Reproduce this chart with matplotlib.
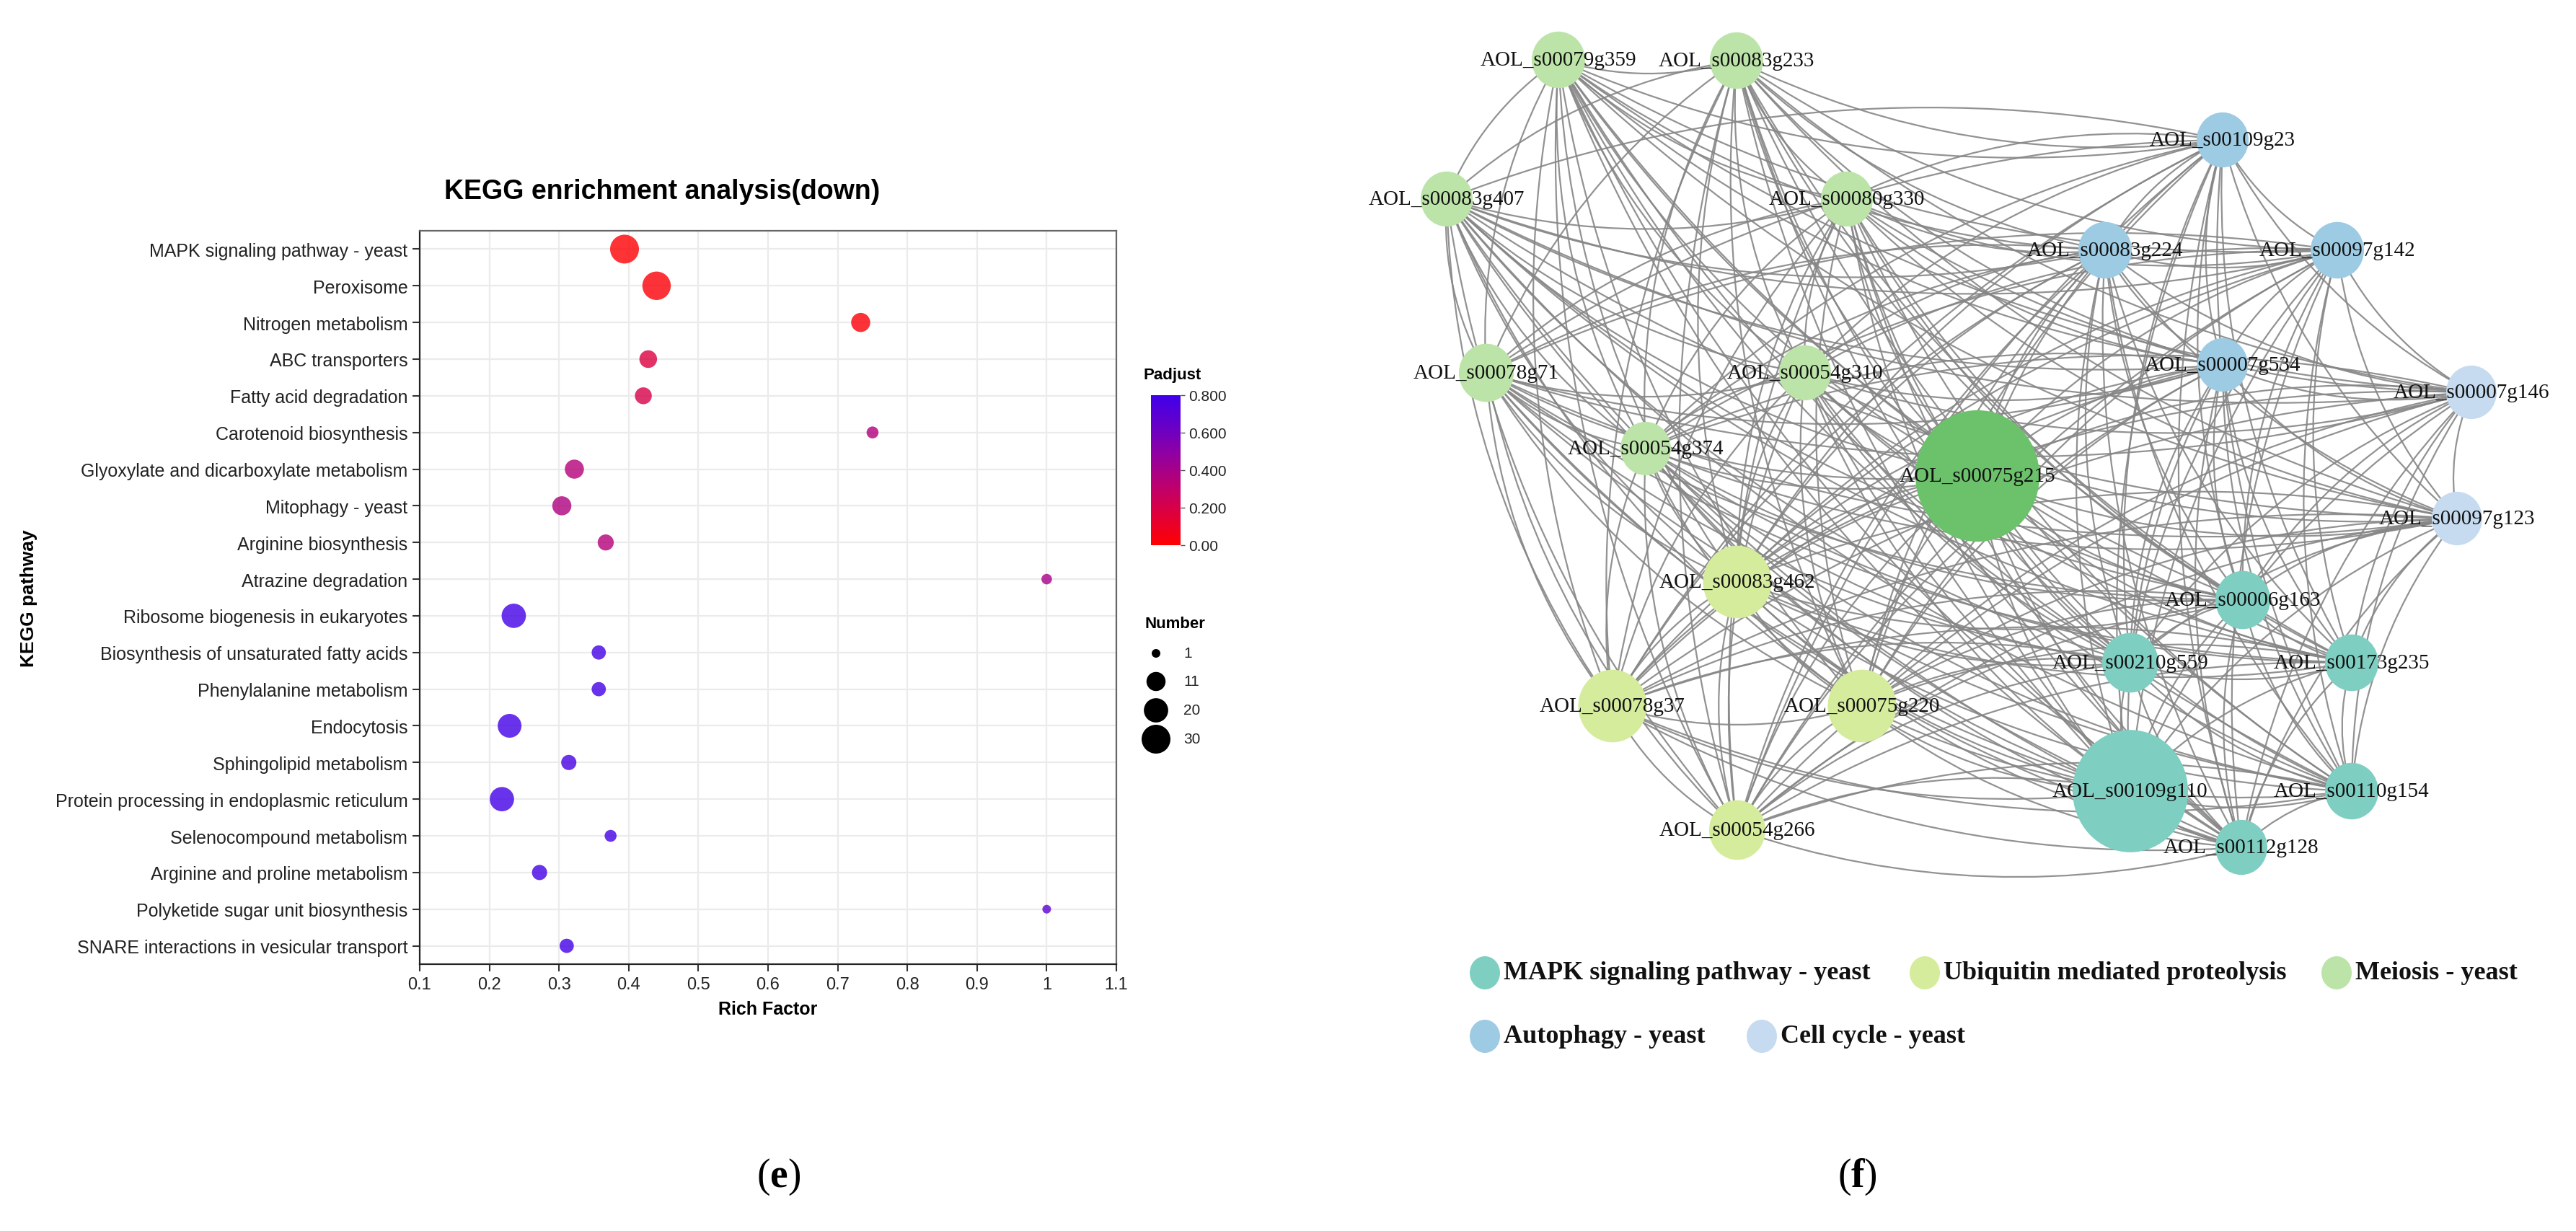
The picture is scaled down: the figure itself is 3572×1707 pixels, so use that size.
import itertools
import numpy as np
import matplotlib
matplotlib.use("Agg")
import matplotlib.pyplot as plt
from matplotlib.colors import LinearSegmentedColormap
from matplotlib.patches import Ellipse, FancyArrowPatch

plt.rcParams['font.family'] = ['Liberation Sans', 'DejaVu Sans']
plt.rcParams['mathtext.fontset'] = 'custom'
plt.rcParams['mathtext.rm'] = 'Liberation Serif'
plt.rcParams['mathtext.bf'] = 'Liberation Serif:bold'

# ---------------- Panel (e) data ----------------
pathways = [
    "MAPK signaling pathway - yeast", "Peroxisome", "Nitrogen metabolism",
    "ABC transporters", "Fatty acid degradation", "Carotenoid biosynthesis",
    "Glyoxylate and dicarboxylate metabolism", "Mitophagy - yeast",
    "Arginine biosynthesis", "Atrazine degradation",
    "Ribosome biogenesis in eukaryotes", "Biosynthesis of unsaturated fatty acids",
    "Phenylalanine metabolism", "Endocytosis", "Sphingolipid metabolism",
    "Protein processing in endoplasmic reticulum", "Selenocompound metabolism",
    "Arginine and proline metabolism", "Polyketide sugar unit biosynthesis",
    "SNARE interactions in vesicular transport",
]
rich_factor = [0.394, 0.440, 0.733, 0.428, 0.421, 0.750, 0.322, 0.304, 0.367, 1.000,
               0.235, 0.357, 0.357, 0.229, 0.314, 0.218, 0.374, 0.272, 1.000, 0.311]
number = [30, 29, 11, 9, 8, 3, 11, 11, 7, 2, 20, 5, 5, 19, 6, 20, 3, 6, 1, 5]
padjust = [0.01, 0.02, 0.02, 0.18, 0.20, 0.36, 0.35, 0.37, 0.35, 0.40,
           0.78, 0.78, 0.78, 0.78, 0.77, 0.78, 0.78, 0.78, 0.68, 0.78]
xticks = [0.1, 0.2, 0.3, 0.4, 0.5, 0.6, 0.7, 0.8, 0.9, 1.0, 1.1]
xtick_labels = ["0.1", "0.2", "0.3", "0.4", "0.5", "0.6", "0.7", "0.8", "0.9", "1", "1.1"]
cbar_ticks = [0.0, 0.2, 0.4, 0.6, 0.8]
cbar_labels = ["0.00", "0.200", "0.400", "0.600", "0.800"]
size_breaks = [1, 11, 20, 30]

# ---------------- Panel (f) data ----------------
node_names = ["AOL_s00079g359", "AOL_s00083g233", "AOL_s00109g23", "AOL_s00083g407",
              "AOL_s00080g330", "AOL_s00083g224", "AOL_s00097g142", "AOL_s00078g71",
              "AOL_s00054g310", "AOL_s00007g534", "AOL_s00007g146", "AOL_s00054g374",
              "AOL_s00075g215", "AOL_s00097g123", "AOL_s00083g462", "AOL_s00006g163",
              "AOL_s00210g559", "AOL_s00173g235", "AOL_s00078g37", "AOL_s00075g220",
              "AOL_s00109g110", "AOL_s00110g154", "AOL_s00054g266", "AOL_s00112g128"]
node_x = [2161, 2408, 3082, 2006, 2561, 2919, 3241, 2061, 2503, 3082, 3427, 2282,
          2742, 3407, 2409, 3110, 2954, 3261, 2236, 2582, 2954, 3261, 2409, 3108]
node_y = [84, 85, 195, 277, 277, 348, 348, 518, 518, 507, 545, 623,
          661, 720, 808, 833, 920, 920, 980, 980, 1098, 1098, 1152, 1176]
node_group = ["Meiosis", "Meiosis", "Autophagy", "Meiosis", "Meiosis", "Autophagy",
              "Autophagy", "Meiosis", "Meiosis", "Autophagy", "Cell", "Meiosis",
              "Hub", "Cell", "Ubiquitin", "MAPK", "MAPK", "MAPK", "Ubiquitin",
              "Ubiquitin", "MAPK", "MAPK", "Ubiquitin", "MAPK"]
node_diam = [74, 74, 72, 72, 72, 74, 74, 76, 72, 70, 70, 70,
             172, 70, 95, 76, 78, 74, 95, 95, 160, 74, 78, 72]
group_colors = {"MAPK": "#7ECFC1", "Ubiquitin": "#D5EC9C", "Meiosis": "#BCE4A8",
                "Autophagy": "#9DCBE3", "Cell": "#C6DBF0", "Hub": "#6CC16B"}
legend_groups = ["MAPK", "Ubiquitin", "Meiosis", "Autophagy", "Cell"]
legend_labels = ["MAPK signaling pathway - yeast", "Ubiquitin mediated proteolysis",
                 "Meiosis - yeast", "Autophagy - yeast", "Cell cycle - yeast"]
edges = list(itertools.combinations(range(len(node_names)), 2))

W, H = 3573, 1708
fig = plt.figure(figsize=(W / 100, H / 100), dpi=100)
fig.patch.set_facecolor("white")


def fx(px):
    return px / W


def fy(py):
    return 1 - py / H


def dot_area(n):
    d_px = 5.75 + 6.25 * np.sqrt(np.asarray(n, dtype=float))
    return (d_px * 72 / 100) ** 2


cmap = LinearSegmentedColormap.from_list(
    "padj", [(0.0, "#FF0000"), (0.2, "#E0003A"), (0.4, "#BB0070"),
             (0.6, "#9200A0"), (0.8, "#6600C8"), (1.0, "#4000EA")])

# ---------------- Panel (e) ----------------
ax = fig.add_axes([fx(582), fy(1338), (1548 - 582) / W, (1338 - 321) / H])
ypos = np.arange(len(pathways))
sc = ax.scatter(rich_factor, ypos, s=dot_area(number), c=padjust, cmap=cmap,
                vmin=0, vmax=0.8, alpha=0.8, edgecolors="none", zorder=3)
ax.set_xlim(0.1, 1.1)
ax.set_ylim(len(pathways) - 0.5, -0.5)
ax.set_xticks(xticks)
ax.set_xticklabels(xtick_labels)
ax.set_yticks(ypos)
ax.set_yticklabels(pathways)
ax.grid(True, color="#EBEBEB", lw=1.6)
ax.set_axisbelow(True)
ax.tick_params(axis="y", length=7, width=1.5, color="#333333", labelsize=18,
               labelcolor="#222222", pad=5)
ax.tick_params(axis="x", length=7, width=1.5, color="#333333", labelsize=17,
               labelcolor="#222222", pad=5)
for side in ["left", "bottom"]:
    ax.spines[side].set_color("#222222")
    ax.spines[side].set_linewidth(1.6)
for side in ["top", "right"]:
    ax.spines[side].set_color("#666666")
    ax.spines[side].set_linewidth(1.6)
ax.set_xlabel("Rich Factor", fontsize=18, fontweight="bold", labelpad=8)

fig.text(fx(918), fy(266), "KEGG enrichment analysis(down)", ha="center", va="center",
         fontsize=27, fontweight="bold")
fig.text(fx(40), fy(830), "KEGG pathway", ha="center", va="center", rotation=90,
         fontsize=19, fontweight="bold")

# colorbar
cax = fig.add_axes([fx(1596), fy(757), 41 / W, (757 - 549) / H])
cb = fig.colorbar(sc, cax=cax, ticks=cbar_ticks)
cb.solids.set_alpha(1)
cb.outline.set_visible(False)
cb.set_ticklabels(cbar_labels)
cax.tick_params(length=4, width=1, color="#555555", labelsize=15, labelcolor="#222222", pad=4)
fig.text(fx(1586), fy(521), "Padjust", ha="left", va="center", fontsize=16, fontweight="bold")

# overlay axes in pixel coordinates
ov = fig.add_axes([0, 0, 1, 1])
ov.set_xlim(0, W)
ov.set_ylim(H, 0)
ov.axis("off")
ov.patch.set_alpha(0)

# size legend
ov.text(1588, 866, "Number", ha="left", va="center", fontsize=16, fontweight="bold")
leg_y = [907, 946, 986, 1026]
ov.scatter([1603] * len(size_breaks), leg_y, s=dot_area(size_breaks), c="black",
           edgecolors="none", zorder=3)
for yy, b in zip(leg_y, size_breaks):
    ov.text(1641, yy, str(b), ha="left", va="center", fontsize=15, color="#222222")

# ---------------- Panel (f) network ----------------
for i, j in edges:
    p = FancyArrowPatch((node_x[i], node_y[i]), (node_x[j], node_y[j]),
                        arrowstyle="-", connectionstyle="arc3,rad=0.15",
                        lw=1.6, color="#868686", alpha=0.9,
                        shrinkA=0, shrinkB=0, zorder=1)
    ov.add_patch(p)

for name, x, y, g, d in zip(node_names, node_x, node_y, node_group, node_diam):
    ov.add_patch(Ellipse((x, y), d, d * 1.06, facecolor=group_colors[g],
                         edgecolor="none", zorder=2))
    ov.text(x, y, name, ha="center", va="center", fontsize=21,
            family="Liberation Serif", color="#111111", zorder=3)

leg_pos = [(2059, 1350), (2669, 1350), (3240, 1350), (2059, 1438), (2443, 1438)]
for (cx, cy), g, lab in zip(leg_pos, legend_groups, legend_labels):
    ov.add_patch(Ellipse((cx, cy), 42, 46, facecolor=group_colors[g], edgecolor="none"))
    ov.text(cx + 26, cy, lab, ha="left", va="center", fontsize=26, fontweight="bold",
            family="Liberation Serif", color="#111111")

fig.text(fx(1080), fy(1632), r"($\mathbf{e}$)", ha="center", va="center", fontsize=40,
         family="Liberation Serif")
fig.text(fx(2575), fy(1632), r"($\mathbf{f}$)", ha="center", va="center", fontsize=40,
         family="Liberation Serif")

fig.savefig("out.png", dpi=100, facecolor="white")
